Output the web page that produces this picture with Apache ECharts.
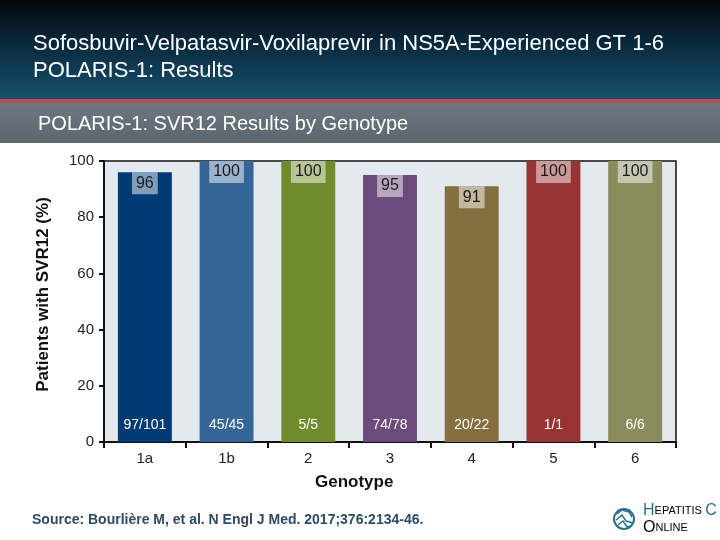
<!DOCTYPE html>
<html><head><meta charset="utf-8">
<script src="https://cdn.jsdelivr.net/npm/echarts@6/dist/echarts.min.js"></script>
<style>html,body{margin:0;padding:0;background:#fff}#c{width:720px;height:540px}</style>
</head><body><div id="c"></div>
<script>
var categories = ['1a','1b','2','3','4','5','6'];
var svrValues = [96,100,100,95,91,100,100];
var fractions = ['97/101','45/45','5/5','74/78','20/22','1/1','6/6'];
var barColors = ['#003a75','#356597','#6f8b2b','#6c4a7c','#856e3f','#973333','#8a8c5e'];
var yTicks = [0,20,40,60,80,100];

var F = '"Liberation Sans", Arial, sans-serif';
var chart = echarts.init(document.getElementById('c'));
chart.setOption({
  animation:false,
  backgroundColor:'#ffffff',
  graphic:[
    {type:'rect',shape:{x:0,y:0,width:720,height:100},z:-10,
     style:{fill:new echarts.graphic.LinearGradient(0,0,0,1,[{offset:0,color:'#03080c'},{offset:0.45,color:'#0a2a3e'},{offset:1,color:'#17536f'}])}},
    {type:'rect',shape:{x:0,y:99,width:720,height:4},z:-9,style:{fill:'#b5514c'}},
    {type:'rect',shape:{x:0,y:103,width:720,height:40},z:-9,
     style:{fill:new echarts.graphic.LinearGradient(0,0,0,1,[{offset:0,color:'#6e767f'},{offset:1,color:'#5d656e'}])}},
    {type:'text',left:33,top:33,style:{text:'Sofosbuvir-Velpatasvir-Voxilaprevir in NS5A-Experienced GT 1-6',fill:'#ffffff',font:'22px '+F}},
    {type:'text',left:33,top:60,style:{text:'POLARIS-1: Results',fill:'#ffffff',font:'22px '+F}},
    {type:'text',left:38,top:114,style:{text:'POLARIS-1: SVR12 Results by Genotype',fill:'#ffffff',font:'20px '+F}},
    {type:'text',left:315,top:474,style:{text:'Genotype',fill:'#111',font:'bold 17px '+F}},
    {type:'text',left:32,top:513,style:{text:'Source: Bourlière M, et al. N Engl J Med. 2017;376:2134-46.',fill:'#2f4a63',font:'bold 14px '+F}},
    {type:'circle',shape:{cx:624,cy:519,r:10},style:{fill:'#ffffff',stroke:'#2a7189',lineWidth:2}},
    {type:'polyline',shape:{points:[[617,514],[622,510],[629,512],[632,517]]},style:{stroke:'#2a7189',lineWidth:1.5,fill:null}},
    {type:'polyline',shape:{points:[[616,520],[622,515],[626,521],[633,523]]},style:{stroke:'#2a7189',lineWidth:1.5,fill:null}},
    {type:'polyline',shape:{points:[[618,525],[623,521],[627,527],[631,526]]},style:{stroke:'#2a7189',lineWidth:1.5,fill:null}},
    {type:'text',left:643,top:503,style:{text:'{a|H}{b|EPATITIS} {a|C}',rich:{a:{fontFamily:F,fontSize:16,fill:'#2a7189',color:'#2a7189'},b:{fontFamily:F,fontSize:11,color:'#2a7189'}}}},
    {type:'text',left:643,top:520,style:{text:'{a|O}{b|NLINE}',rich:{a:{fontFamily:F,fontSize:16,color:'#2a7189'},b:{fontFamily:F,fontSize:11,color:'#2a7189'}}}}
  ],
  grid:{left:104,right:44,top:161,bottom:98,show:true,backgroundColor:'#e4e9ef',borderColor:'#111',borderWidth:1.5},
  xAxis:{type:'category',data:categories,
    axisLine:{lineStyle:{color:'#111',width:2}},
    axisTick:{show:true,inside:false,length:6,lineStyle:{color:'#111',width:2},alignWithLabel:false},
    axisLabel:{fontFamily:F,fontSize:15,color:'#222',margin:9}},
  yAxis:{type:'value',min:0,max:100,interval:20,
    name:'Patients with SVR12 (%)',nameLocation:'middle',nameGap:52,
    nameTextStyle:{fontFamily:F,fontWeight:'bold',fontSize:17,color:'#111',padding:[0,0,0,14]},
    axisLine:{show:true,lineStyle:{color:'#111',width:2}},
    axisTick:{show:true,length:5,lineStyle:{color:'#111',width:2}},
    splitLine:{show:false},
    axisLabel:{fontFamily:F,fontSize:15,color:'#222',margin:10,
      formatter:function(v){return yTicks.indexOf(v)>=0?String(v):'';}}},
  series:[
    {type:'bar',barWidth:'66%',data:svrValues.map(function(v,i){return {value:v,itemStyle:{color:barColors[i]}};}),
     label:{show:true,position:'insideTop',distance:0,fontFamily:F,fontSize:16,color:'#1a1a1a',
       backgroundColor:'rgba(255,255,255,0.5)',padding:[3,4,3,4]}},
    {type:'bar',barWidth:'66%',barGap:'-100%',data:svrValues,
     itemStyle:{color:'rgba(0,0,0,0)'},
     label:{show:true,position:'insideBottom',distance:10,fontFamily:F,fontSize:14,color:'#ffffff',
       formatter:function(p){return fractions[p.dataIndex];}}}
  ]
});
</script></body></html>
